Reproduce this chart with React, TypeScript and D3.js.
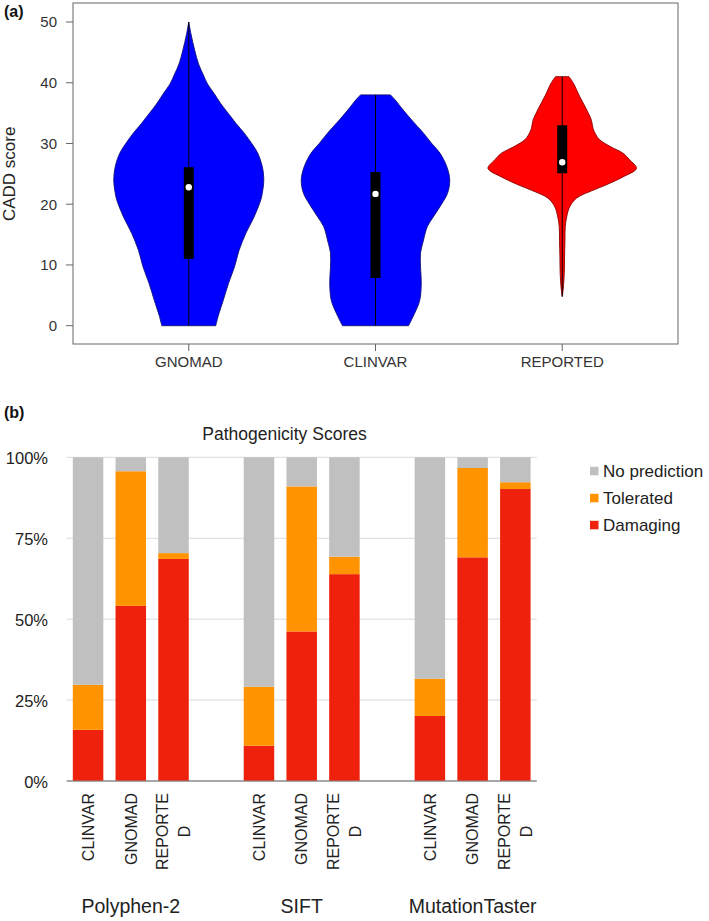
import React, { useEffect, useRef } from "react";
import * as d3 from "d3";

// ---------- Panel (a): CADD score violins ----------
const violinGroups = ["GNOMAD", "CLINVAR", "REPORTED"];
const yTicksA = [0, 10, 20, 30, 40, 50];

const gnomadScores = [0, 1.5, 4.2, 7, 9.7, 12.4, 15.2, 17.9, 20.7, 21.8, 24, 26.2, 28.4, 30, 31.7, 33.3, 34.9, 36.5, 38.2, 39.8, 41.4, 43.1, 45.3, 48, 50];
const gnomadDensity = [0.36, 0.39, 0.46, 0.53, 0.61, 0.67, 0.76, 0.87, 0.96, 0.98, 1.0, 0.98, 0.92, 0.84, 0.74, 0.63, 0.53, 0.43, 0.34, 0.25, 0.19, 0.13, 0.08, 0.03, 0];

const clinvarScores = [0, 2, 4.2, 7, 9.7, 11.9, 14.1, 16.3, 17.9, 20, 21.8, 24, 26.2, 28.4, 30, 31.7, 33.9, 35.5, 37.2, 38];
const clinvarDensity = [0.44, 0.52, 0.59, 0.61, 0.6, 0.6, 0.64, 0.69, 0.77, 0.88, 0.96, 0.99, 0.95, 0.86, 0.75, 0.64, 0.48, 0.37, 0.26, 0.2];

const reportedScores = [4.8, 6, 8.6, 11.4, 14, 16.3, 17.9, 19.6, 21, 22.3, 23, 24, 24.5, 25.9, 27.3, 28.4, 29.5, 30.6, 31.4, 32.5, 33.8, 35.7, 37.8, 39.9, 41];
const reportedDensity = [0, 0.013, 0.027, 0.031, 0.036, 0.04, 0.059, 0.1, 0.19, 0.41, 0.55, 0.73, 0.81, 0.99, 0.9, 0.81, 0.64, 0.5, 0.45, 0.41, 0.39, 0.32, 0.23, 0.15, 0.09];

const boxMin = [0, 0, 4.8];
const boxQ1 = [11, 7.85, 25.1];
const boxMedian = [22.8, 21.7, 26.9];
const boxQ3 = [26.1, 25.3, 33.0];
const boxMax = [50, 38, 41];
const violinFill = ["#0000ff", "#0000ff", "#ff0000"];
const violinStroke = ["#10107a", "#10107a", "#8a0000"];

// ---------- Panel (b): Pathogenicity scores ----------
const predictors = ["Polyphen-2", "SIFT", "MutationTaster"];
const datasets = ["CLINVAR", "GNOMAD", "REPORTED"];
const datasetLabelLines = [["CLINVAR"], ["GNOMAD"], ["REPORTE", "D"]];
// order: predictor-major, dataset-minor
const damaging = [15.8, 54.1, 68.6, 10.9, 46.2, 63.9, 20.1, 69.1, 90.2];
const tolerated = [13.9, 41.6, 1.8, 18.2, 44.8, 5.4, 11.5, 27.6, 2.1];
const noPrediction = [70.3, 4.3, 29.6, 70.9, 9.0, 30.7, 68.4, 3.3, 7.7];
const stackKeys = ["Damaging", "Tolerated", "No prediction"];
const stackColors = ["#ee220c", "#ff9300", "#c0c0c0"];
const legendOrder = ["No prediction", "Tolerated", "Damaging"];
const yTicksB = [0, 25, 50, 75, 100];

const FONT = "'Liberation Sans', Arial, Helvetica, sans-serif";

export default function App() {
  const ref = useRef<SVGSVGElement>(null);

  useEffect(() => {
    document.body.style.margin = "0";
    const svg = d3.select(ref.current);
    svg.selectAll("*").remove();

    // ===== Panel (a) =====
    const ga = svg.append("g");
    const ay = d3.scaleLinear().domain([0, 50]).range([325.7, 22]);
    const ax = d3.scalePoint<string>().domain(violinGroups).range([73, 678]).padding(0.62);
    const aw = d3.scaleLinear().domain([0, 1]).range([0, 75]);

    ga.append("text").attr("x", 4).attr("y", 17).attr("font-family", FONT)
      .attr("font-weight", "bold").attr("font-size", 16).attr("fill", "#111").text("(a)");

    const profiles = [
      { s: gnomadScores, d: gnomadDensity },
      { s: clinvarScores, d: clinvarDensity },
      { s: reportedScores, d: reportedDensity },
    ];

    violinGroups.forEach((g, i) => {
      const cx = ax(g) as number;
      const pts = profiles[i].s.map((s, k) => ({ s, d: profiles[i].d[k] }));
      const area = d3.area<{ s: number; d: number }>()
        .y((p) => ay(p.s))
        .x0((p) => cx - aw(p.d))
        .x1((p) => cx + aw(p.d))
        .curve(d3.curveCatmullRom);
      ga.append("path").attr("d", area(pts) as string)
        .attr("fill", violinFill[i]).attr("stroke", violinStroke[i]).attr("stroke-width", 0.9);
      ga.append("line").attr("x1", cx).attr("x2", cx)
        .attr("y1", ay(boxMin[i])).attr("y2", ay(boxMax[i]))
        .attr("stroke", "#000").attr("stroke-width", 1);
      ga.append("rect").attr("x", cx - 5).attr("width", 10)
        .attr("y", ay(boxQ3[i])).attr("height", ay(boxQ1[i]) - ay(boxQ3[i]))
        .attr("fill", "#000");
      ga.append("circle").attr("cx", cx).attr("cy", ay(boxMedian[i])).attr("r", 3.2).attr("fill", "#fff");
    });

    ga.append("rect").attr("x", 73).attr("y", 3).attr("width", 605).attr("height", 341)
      .attr("fill", "none").attr("stroke", "#666").attr("stroke-width", 1);

    yTicksA.forEach((t) => {
      ga.append("line").attr("x1", 66).attr("x2", 73).attr("y1", ay(t)).attr("y2", ay(t))
        .attr("stroke", "#666");
      ga.append("text").attr("x", 57).attr("y", ay(t)).attr("dy", "0.36em")
        .attr("text-anchor", "end").attr("font-family", FONT).attr("font-size", 15)
        .attr("fill", "#333").text(String(t));
    });
    violinGroups.forEach((g) => {
      const cx = ax(g) as number;
      ga.append("line").attr("x1", cx).attr("x2", cx).attr("y1", 344).attr("y2", 351).attr("stroke", "#666");
      ga.append("text").attr("x", cx).attr("y", 367).attr("text-anchor", "middle")
        .attr("font-family", FONT).attr("font-size", 15).attr("fill", "#333").text(g);
    });
    ga.append("text").attr("transform", `translate(15,${(ay(0) + ay(50)) / 2}) rotate(-90)`)
      .attr("text-anchor", "middle").attr("font-family", FONT).attr("font-size", 17)
      .attr("fill", "#222").text("CADD score");

    // ===== Panel (b) =====
    const gb = svg.append("g");
    gb.append("text").attr("x", 4).attr("y", 418).attr("font-family", FONT)
      .attr("font-weight", "bold").attr("font-size", 16).attr("fill", "#111").text("(b)");

    const slotKeys: string[] = [];
    predictors.forEach((p, i) => {
      datasets.forEach((d) => slotKeys.push(`${p}|${d}`));
      if (i < predictors.length - 1) slotKeys.push(`gap${i}`);
    });
    const bx = d3.scaleBand().domain(slotKeys).range([66.7, 536.7]).paddingInner(0.286).paddingOuter(0.143);
    const by = d3.scaleLinear().domain([0, 100]).range([781, 457.3]);

    gb.append("text").attr("x", 284.5).attr("y", 440).attr("text-anchor", "middle")
      .attr("font-family", FONT).attr("font-size", 17.5).attr("fill", "#222").text("Pathogenicity Scores");

    yTicksB.forEach((t) => {
      gb.append("line").attr("x1", 66.7).attr("x2", 536.7).attr("y1", by(t)).attr("y2", by(t))
        .attr("stroke", t === 0 ? "#8a8a8a" : "#d9d9d9").attr("stroke-width", t === 0 ? 1.2 : 1);
      gb.append("text").attr("x", 48).attr("y", by(t)).attr("dy", "0.42em").attr("text-anchor", "end")
        .attr("font-family", FONT).attr("font-size", 16.5).attr("fill", "#222").text(`${t}%`);
    });

    const rows = predictors.flatMap((p) => datasets.map((d) => ({ key: `${p}|${d}` })));
    const table = rows.map((r, k) => ({
      key: r.key,
      Damaging: damaging[k],
      Tolerated: tolerated[k],
      "No prediction": noPrediction[k],
    }));
    const series = d3.stack<any>().keys(stackKeys)(table);
    series.forEach((s, si) => {
      gb.append("g").selectAll("rect").data(s).join("rect")
        .attr("x", (d: any) => bx(d.data.key) as number)
        .attr("width", bx.bandwidth())
        .attr("y", (d: any) => by(d[1]))
        .attr("height", (d: any) => by(d[0]) - by(d[1]))
        .attr("fill", stackColors[si]);
    });
    // redraw baseline on top
    gb.append("line").attr("x1", 66.7).attr("x2", 536.7).attr("y1", by(0)).attr("y2", by(0))
      .attr("stroke", "#8a8a8a").attr("stroke-width", 1.2);

    // category labels
    predictors.forEach((p) => {
      datasets.forEach((d, di) => {
        const cx = (bx(`${p}|${d}`) as number) + bx.bandwidth() / 2;
        const lines = datasetLabelLines[di];
        const n = lines.length;
        const gl = gb.append("g").attr("transform", `translate(${cx},793) rotate(-90)`);
        const first = gl.append("text").attr("x", 0).attr("y", (0 - (n - 1) / 2) * 22)
          .attr("dy", "0.36em").attr("text-anchor", "end").attr("font-family", FONT)
          .attr("font-size", 16).attr("fill", "#222").text(lines[0]);
        const len = (first.node() as SVGTextElement).getComputedTextLength();
        for (let k = 1; k < n; k++) {
          gl.append("text").attr("x", -len / 2).attr("y", (k - (n - 1) / 2) * 22)
            .attr("dy", "0.36em").attr("text-anchor", "middle").attr("font-family", FONT)
            .attr("font-size", 16).attr("fill", "#222").text(lines[k]);
        }
      });
      const mid = (bx(`${p}|${datasets[1]}`) as number) + bx.bandwidth() / 2;
      gb.append("text").attr("x", mid).attr("y", 913).attr("text-anchor", "middle")
        .attr("font-family", FONT).attr("font-size", 19.5).attr("fill", "#222").text(p);
    });

    // legend
    legendOrder.forEach((k, i) => {
      const base = 477.3 + i * 27;
      const c = stackColors[stackKeys.indexOf(k)];
      gb.append("rect").attr("x", 590).attr("y", base - 10.5).attr("width", 8.5).attr("height", 8.5).attr("fill", c);
      gb.append("text").attr("x", 603).attr("y", base).attr("font-family", FONT)
        .attr("font-size", 17).attr("fill", "#222").text(k);
    });
  }, []);

  return (
    <svg ref={ref} width={709} height={921}
      style={{ display: "block", position: "absolute", left: 0, top: 0, background: "#fff" }} />
  );
}
